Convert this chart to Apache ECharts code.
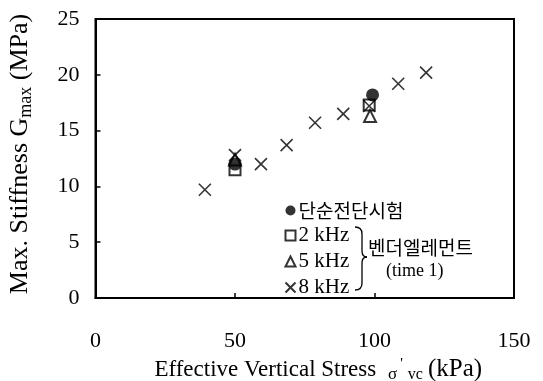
<!DOCTYPE html>
<html>
<head>
<meta charset="utf-8">
<script src="https://cdn.jsdelivr.net/npm/echarts@6/dist/echarts.min.js"></script>
<style>
  html, body { margin: 0; padding: 0; background: #fff; }
  #chart { width: 543px; height: 381px; }
</style>
</head>
<body>
<div id="chart"></div>
<script>
// Gmax measured by simple shear test and bender elements (time 1)
const simpleShear = [[50, 12.0], [99.3, 18.2]];
const bender2k = [[50, 11.5], [98.1, 17.3]];
const bender5k = [[50, 12.4], [98.4, 16.3]];
const bender8k = [
  [39.2, 9.7], [50, 12.8], [59.3, 12.0], [68.5, 13.7], [78.7, 15.7],
  [88.8, 16.5], [98.1, 17.2], [108.5, 19.2], [118.5, 20.2]
];
const xTicks = [0, 50, 100, 150];
const yTicks = [0, 5, 10, 15, 20, 25];
const seriesNames = ['단순전단시험', '2 kHz', '5 kHz', '8 kHz'];

const serif = '"Liberation Serif", "Times New Roman", serif';
const korean = '"Noto Sans CJK KR", sans-serif';
const crossPath = 'path://M0,0L10,10M10,0L0,10';

// right curly brace grouping the three bender-element entries
const braceStyle = { fill: 'none', stroke: '#000', lineWidth: 1.3 };
function bez(x1, y1, cx, cy, x2, y2) {
  return { type: 'bezierCurve', shape: { x1: x1, y1: y1, cpx1: cx, cpy1: cy, x2: x2, y2: y2 }, style: braceStyle };
}
function seg(x1, y1, x2, y2) {
  return { type: 'line', shape: { x1: x1, y1: y1, x2: x2, y2: y2 }, style: braceStyle };
}
const brace = [
  bez(355, 227, 362, 227, 362, 234),
  seg(362, 234, 362, 251),
  bez(362, 251, 362, 257, 367, 257),
  bez(367, 257, 362, 257, 362, 263),
  seg(362, 263, 362, 283),
  bez(362, 283, 362, 290, 355, 290)
];

const chart = echarts.init(document.getElementById('chart'));
chart.setOption({
  backgroundColor: '#fff',
  animation: false,
  grid: {
    left: 95.5, right: 29, top: 19, bottom: 83,
    outerBoundsMode: 'none', containLabel: false,
    show: true, borderColor: '#000', borderWidth: 2, backgroundColor: 'transparent'
  },
  xAxis: {
    type: 'value',
    min: xTicks[0], max: xTicks[xTicks.length - 1], interval: 50,
    splitLine: { show: false },
    axisLine: { lineStyle: { color: '#000', width: 2 } },
    axisTick: { inside: true, length: 5, lineStyle: { color: '#000', width: 1.5 } },
    axisLabel: { color: '#000', fontFamily: serif, fontSize: 22, margin: 32 },
    name: 'Effective Vertical Stress {sig|σ}{pr|\'}{sub|vc}{unit|(kPa)}',
    nameLocation: 'middle',
    nameGap: 51,
    nameTextStyle: {
      color: '#000', fontFamily: serif, fontSize: 23, lineHeight: 26,
      padding: [0, 0, 0, 27],
      rich: {
        sig: { fontFamily: serif, fontSize: 17, color: '#000', verticalAlign: 'bottom', lineHeight: 22, padding: [0, 3, 0, 6] },
        pr: { fontFamily: serif, fontSize: 15, color: '#000', verticalAlign: 'top', lineHeight: 14, padding: [0, 5, 0, 0] },
        sub: { fontFamily: serif, fontSize: 16, color: '#000', verticalAlign: 'bottom', lineHeight: 18, padding: [0, 3, 0, 0] },
        unit: { fontFamily: serif, fontSize: 25, color: '#000', lineHeight: 26, padding: [0, 0, 0, 2] }
      }
    }
  },
  yAxis: {
    type: 'value',
    min: yTicks[0], max: yTicks[yTicks.length - 1], interval: 5,
    splitLine: { show: false },
    axisLine: { lineStyle: { color: '#000', width: 2 } },
    axisTick: { inside: true, length: 5, lineStyle: { color: '#000', width: 1.5 } },
    axisLabel: { color: '#000', fontFamily: serif, fontSize: 22, margin: 16 },
    name: 'Max. Stiffness G{sub|max} (MPa)',
    nameLocation: 'middle',
    nameGap: 60,
    nameRotate: 90,
    nameTextStyle: {
      color: '#000', fontFamily: serif, fontSize: 26, lineHeight: 30,
      padding: [0, 0, 0, 9],
      rich: {
        sub: { fontFamily: serif, fontSize: 18, color: '#000', verticalAlign: 'bottom', lineHeight: 22 }
      }
    }
  },
  legend: {
    orient: 'vertical',
    left: 283, top: 201,
    itemWidth: 10, itemHeight: 10, itemGap: 5,
    padding: 0,
    data: seriesNames,
    formatter: function (name) {
      return name === seriesNames[0] ? '{ko|' + name + '}' : '{en|' + name + '}';
    },
    textStyle: {
      color: '#000', padding: [0, 0, 0, -2],
      rich: {
        ko: { fontFamily: korean, fontSize: 19, color: '#000' },
        en: { fontFamily: serif, fontSize: 21, color: '#000' }
      }
    }
  },
  graphic: brace.concat([
    {
      type: 'text', left: 368, top: 238,
      style: { text: '벤더엘레먼트', font: '19px ' + korean, fill: '#000' }
    },
    {
      type: 'text', left: 386, top: 262,
      style: { text: '(time 1)', font: '18px ' + serif, fill: '#000' }
    }
  ]),
  series: [
    {
      name: seriesNames[1], type: 'scatter', data: bender2k,
      symbol: 'emptyRect', symbolSize: 11,
      itemStyle: { color: '#000', borderWidth: 1.5 }, z: 2
    },
    {
      name: seriesNames[2], type: 'scatter', data: bender5k,
      symbol: 'emptyTriangle', symbolSize: 12,
      itemStyle: { color: '#000', borderWidth: 1.5 }, z: 3
    },
    {
      name: seriesNames[0], type: 'scatter', data: simpleShear,
      symbol: 'circle', symbolSize: 13,
      itemStyle: { color: '#000' }, z: 4
    },
    {
      name: seriesNames[3], type: 'scatter', data: bender8k,
      symbol: crossPath, symbolSize: 12,
      itemStyle: { color: 'none', borderColor: '#000', borderWidth: 1.6 }, z: 5
    }
  ]
});
</script>
</body>
</html>
